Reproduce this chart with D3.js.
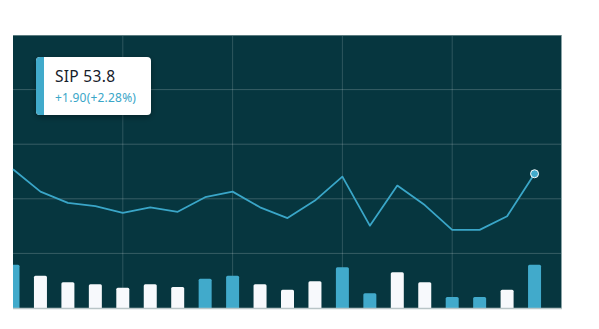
<!DOCTYPE html>
<html>
<head>
<meta charset="utf-8">
<script src="https://cdn.jsdelivr.net/npm/d3@7"></script>
<style>
  body { margin: 0; background: #fff; }
  svg { display: block; font-family: "Noto Sans", "Open Sans", sans-serif; }
</style>
</head>
<body>
<svg id="chart" width="599" height="329"></svg>
<script>
// price per session
const prices = [54.0, 53.0, 52.5, 52.35, 52.05, 52.3, 52.1, 52.75, 53.0, 52.3,
                51.82, 52.6, 53.67, 51.48, 53.27, 52.4, 51.29, 51.29, 51.9, 53.8];
// volume (thousands)
const volumes = [7.97, 5.95, 4.73, 4.36, 3.74, 4.36, 3.87, 5.4, 5.95, 4.36,
                 3.37, 4.92, 7.5, 2.7, 6.57, 4.73, 2.03, 2.03, 3.37, 7.97];
// bar highlight flag
const highlight = [1, 0, 0, 0, 0, 0, 0, 1, 1, 0, 0, 0, 1, 1, 0, 0, 1, 1, 0, 1];
const symbol = "SIP";
const lastPrice = "53.8";
const change = "+1.90(+2.28%)";

const svg = d3.select("#chart");
const pLeft = 13, pRight = 562, pTop = 35, pBottom = 308;

const x = d3.scaleLinear().domain([0, prices.length]).range([pLeft, pRight]);
const y = d3.scaleLinear().domain([47.8, 60]).range([pBottom, pTop]);
const yVol = d3.scaleLinear().domain([0, 10]).range([pBottom, pBottom - 54.3]);

const defs = svg.append("defs");
defs.append("clipPath").attr("id", "clip")
  .append("rect").attr("x", pLeft).attr("y", pTop).attr("width", pRight - pLeft).attr("height", pBottom - pTop);

svg.append("rect")
  .attr("x", pLeft).attr("y", pTop)
  .attr("width", pRight - pLeft).attr("height", pBottom - pTop)
  .attr("fill", "#06363f");

// grid
const g = svg.append("g");
d3.range(1, 5).forEach(i => {
  const yy = pTop + i * (pBottom - pTop) / 5;
  g.append("line").attr("x1", pLeft).attr("x2", pRight).attr("y1", yy).attr("y2", yy)
    .attr("stroke", "#ffffff").attr("stroke-opacity", 0.2).attr("stroke-width", 1);
  const xx = pLeft + i * (pRight - pLeft) / 5;
  g.append("line").attr("y1", pTop).attr("y2", pBottom).attr("x1", xx).attr("x2", xx)
    .attr("stroke", "#ffffff").attr("stroke-opacity", 0.16).attr("stroke-width", 1);
});
g.append("line").attr("x1", pLeft).attr("x2", pRight).attr("y1", pTop + 0.5).attr("y2", pTop + 0.5)
  .attr("stroke", "#5b7c80").attr("stroke-width", 1);
g.append("line").attr("x1", pRight - 0.5).attr("x2", pRight - 0.5).attr("y1", pTop).attr("y2", pBottom)
  .attr("stroke", "#8aa3a6").attr("stroke-width", 1);

// volume bars
const bw = 13;
svg.append("g").attr("clip-path", "url(#clip)")
  .selectAll("path").data(volumes).join("path")
  .attr("d", (d, i) => {
    const x0 = x(i) - bw / 2, x1 = x(i) + bw / 2, yt = yVol(d), r = 1.5;
    return `M${x0},${pBottom}V${yt + r}Q${x0},${yt} ${x0 + r},${yt}H${x1 - r}Q${x1},${yt} ${x1},${yt + r}V${pBottom}Z`;
  })
  .attr("fill", (d, i) => highlight[i] ? "#41aacb" : "#f7f9fc");

// axis line
svg.append("line").attr("x1", pLeft).attr("x2", pRight).attr("y1", pBottom + 0.5).attr("y2", pBottom + 0.5)
  .attr("stroke", "#b9c5c7").attr("stroke-width", 1.5);

// price line
const line = d3.line().x((d, i) => x(i)).y(d => y(d));
svg.append("path").datum(prices)
  .attr("d", line)
  .attr("fill", "none")
  .attr("stroke", "#3aa6c8")
  .attr("stroke-width", 1.8)
  .attr("stroke-linejoin", "round");

const li = prices.length - 1;
svg.append("circle")
  .attr("cx", x(li)).attr("cy", y(prices[li])).attr("r", 4)
  .attr("fill", "#41aacb").attr("stroke", "#ffffff").attr("stroke-width", 1);

// tooltip
const filt = defs.append("filter").attr("id", "shadow")
  .attr("x", "-20%").attr("y", "-30%").attr("width", "140%").attr("height", "160%");
filt.append("feDropShadow").attr("dx", 0).attr("dy", 2).attr("stdDeviation", 3)
  .attr("flood-color", "#000").attr("flood-opacity", 0.35);

const tip = svg.append("g").attr("transform", "translate(36,57)");
tip.append("rect").attr("width", 115).attr("height", 58).attr("rx", 4)
  .attr("fill", "#ffffff").attr("filter", "url(#shadow)");
tip.append("path").attr("d", "M4,0H8V58H4Q0,58 0,54V4Q0,0 4,0Z").attr("fill", "#41aacb");
tip.append("text").attr("x", 19).attr("y", 25)
  .attr("font-size", 15.5).attr("fill", "#16202a").attr("letter-spacing", 0.3)
  .text(symbol + " " + lastPrice);
tip.append("text").attr("x", 19).attr("y", 45)
  .attr("font-size", 12).attr("fill", "#3aa6c8").attr("letter-spacing", 0.2)
  .text(change);
</script>
</body>
</html>
